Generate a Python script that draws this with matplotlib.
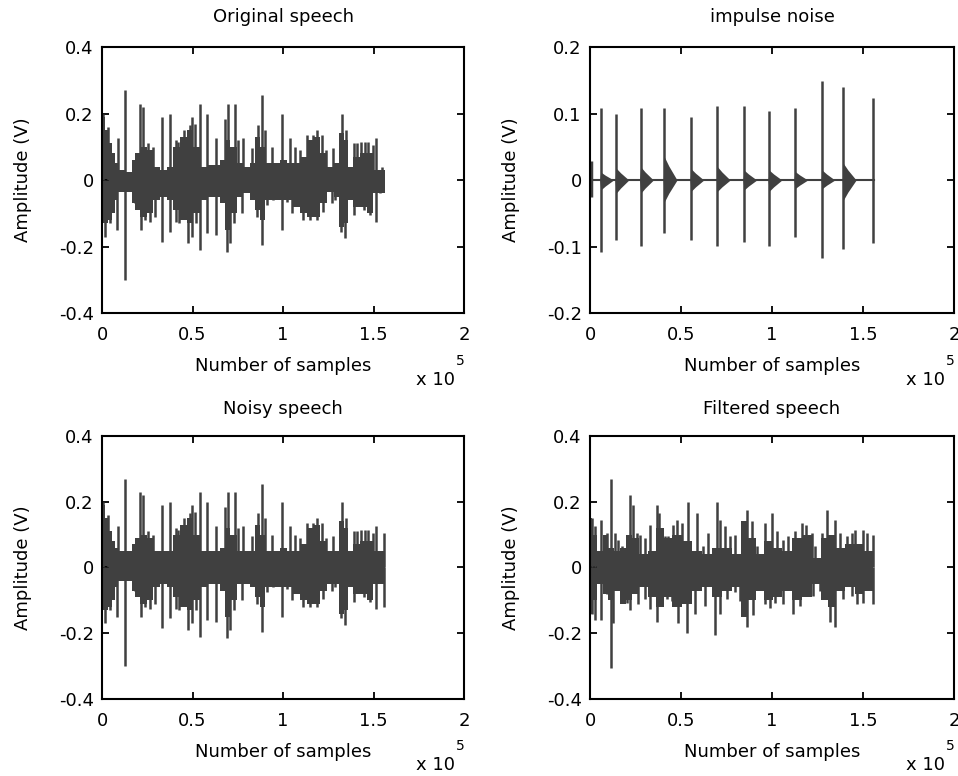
import numpy as np
import matplotlib.pyplot as plt
from matplotlib.ticker import FuncFormatter

plt.rcParams['font.family'] = ['DejaVu Sans']
plt.rcParams['axes.unicode_minus'] = False

# all x positions are in units of 1e5 samples
SCALE = 1e5
sig_color = '#404040'

# ---- original speech ----
orig_core_x = [0.004, 0.026, 0.044, 0.063, 0.081, 0.099, 0.155, 0.173, 0.192, 0.228, 0.265, 0.302,
               0.339, 0.376, 0.413, 0.449, 0.486, 0.523, 0.56, 0.597, 0.634, 0.67, 0.689, 0.726,
               0.762, 0.799, 0.836, 0.855, 0.891, 0.91, 0.965, 1.002, 1.039, 1.075, 1.112, 1.149,
               1.186, 1.223, 1.26, 1.297, 1.324, 1.352, 1.37, 1.407, 1.444, 1.481, 1.517, 1.564]
orig_core_up = [0.19, 0.15, 0.11, 0.08, 0.05, 0.03, 0.025, 0.06, 0.08, 0.1, 0.09, 0.04,
                0.03, 0.04, 0.1, 0.13, 0.15, 0.1, 0.04, 0.045, 0.045, 0.06, 0.12, 0.1,
                0.05, 0.04, 0.05, 0.13, 0.1, 0.05, 0.05, 0.06, 0.05, 0.05, 0.07, 0.12,
                0.13, 0.08, 0.04, 0.05, 0.14, 0.12, 0.04, 0.07, 0.08, 0.08, 0.03, 0.03]
orig_core_lo = [-0.13, -0.13, -0.12, -0.1, -0.06, -0.035, -0.035, -0.07, -0.09, -0.11, -0.1, -0.06,
                -0.05, -0.06, -0.09, -0.12, -0.13, -0.1, -0.06, -0.05, -0.05, -0.07, -0.15, -0.1,
                -0.05, -0.04, -0.06, -0.09, -0.12, -0.06, -0.06, -0.06, -0.06, -0.08, -0.1, -0.11,
                -0.11, -0.07, -0.035, -0.05, -0.14, -0.13, -0.06, -0.08, -0.08, -0.1, -0.04, -0.04]
orig_up_x = [0.004, 0.035, 0.09, 0.127, 0.21, 0.225, 0.256, 0.284, 0.33, 0.376, 0.409, 0.422,
             0.453, 0.486, 0.499, 0.514, 0.541, 0.582, 0.63, 0.68, 0.698, 0.735, 0.753, 0.781,
             0.827, 0.864, 0.882, 0.901, 0.937, 0.993, 1.039, 1.066, 1.094, 1.131, 1.164, 1.186,
             1.214, 1.238, 1.274, 1.324, 1.348, 1.389, 1.407, 1.429, 1.453, 1.471, 1.495, 1.514, 1.545]
orig_up_y = [0.2, 0.16, 0.125, 0.27, 0.23, 0.22, 0.11, 0.1, 0.19, 0.2, 0.12, 0.115,
             0.15, 0.165, 0.19, 0.17, 0.23, 0.2, 0.125, 0.185, 0.23, 0.23, 0.12, 0.125,
             0.095, 0.165, 0.255, 0.15, 0.1, 0.2, 0.125, 0.1, 0.09, 0.135, 0.135, 0.15,
             0.135, 0.09, 0.095, 0.2, 0.15, 0.11, 0.11, 0.115, 0.115, 0.115, 0.105, 0.125, 0.04]
orig_dn_x = [0.017, 0.044, 0.081, 0.127, 0.182, 0.214, 0.238, 0.265, 0.293, 0.33, 0.376, 0.409,
             0.427, 0.477, 0.495, 0.519, 0.541, 0.582, 0.63, 0.689, 0.707, 0.729, 0.772, 0.855,
             0.882, 0.91, 0.947, 0.993, 1.02, 1.048, 1.066, 1.112, 1.149, 1.186, 1.223, 1.269,
             1.287, 1.319, 1.343, 1.389, 1.416, 1.448, 1.481, 1.514, 1.536]
orig_dn_y = [-0.17, -0.13, -0.15, -0.3, -0.07, -0.15, -0.12, -0.125, -0.11, -0.185, -0.155, -0.125,
             -0.13, -0.19, -0.17, -0.13, -0.21, -0.16, -0.165, -0.215, -0.19, -0.13, -0.1, -0.11,
             -0.195, -0.075, -0.06, -0.15, -0.065, -0.1, -0.075, -0.12, -0.12, -0.12, -0.095, -0.07,
             -0.06, -0.155, -0.175, -0.105, -0.07, -0.09, -0.105, -0.125, -0.04]

# ---- impulse noise ----
imp_x = [0.059, 0.143, 0.278, 0.408, 0.555, 0.7, 0.846, 0.984, 1.126, 1.275, 1.392, 1.553]
imp_up = [0.108, 0.1, 0.108, 0.108, 0.095, 0.111, 0.111, 0.104, 0.108, 0.149, 0.14, 0.124]
imp_dn = [-0.108, -0.09, -0.099, -0.08, -0.09, -0.099, -0.093, -0.099, -0.085, -0.117, -0.104, -0.094]
tail_up = [0.012, 0.018, 0.02, 0.035, 0.017, 0.02, 0.015, 0.015, 0.013, 0.015, 0.025, 0.0]
tail_dn = [-0.015, -0.02, -0.02, -0.033, -0.017, -0.017, -0.015, -0.017, -0.013, -0.013, -0.03, 0.0]
imp_end = 1.56

# ---- noisy speech ----
noisy_core_up = [0.19, 0.15, 0.11, 0.08, 0.06, 0.05, 0.05, 0.07, 0.09, 0.1, 0.09, 0.05,
                 0.05, 0.05, 0.1, 0.13, 0.15, 0.1, 0.05, 0.05, 0.05, 0.06, 0.12, 0.1,
                 0.05, 0.05, 0.05, 0.13, 0.1, 0.05, 0.05, 0.06, 0.05, 0.05, 0.07, 0.12,
                 0.13, 0.08, 0.05, 0.05, 0.14, 0.12, 0.05, 0.07, 0.08, 0.08, 0.05, 0.05]
noisy_core_lo = [-0.13, -0.13, -0.12, -0.1, -0.06, -0.04, -0.04, -0.07, -0.09, -0.11, -0.1, -0.06,
                 -0.05, -0.06, -0.09, -0.12, -0.13, -0.1, -0.06, -0.05, -0.05, -0.07, -0.15, -0.1,
                 -0.05, -0.05, -0.06, -0.09, -0.12, -0.06, -0.06, -0.06, -0.06, -0.08, -0.1, -0.11,
                 -0.11, -0.07, -0.05, -0.05, -0.14, -0.13, -0.06, -0.08, -0.08, -0.1, -0.05, -0.05]
noisy_up_x = orig_up_x[:-1] + [1.558]
noisy_up_y = orig_up_y[:-1] + [0.105]
noisy_dn_x = orig_dn_x[:-1] + [1.558]
noisy_dn_y = orig_dn_y[:-1] + [-0.12]

# ---- filtered speech ----
filt_core_x = [0.0, 0.018, 0.055, 0.082, 0.119, 0.147, 0.183, 0.211, 0.247, 0.293, 0.339, 0.385,
               0.43, 0.476, 0.531, 0.586, 0.641, 0.696, 0.751, 0.806, 0.852, 0.888, 0.934, 0.98,
               1.026, 1.081, 1.136, 1.19, 1.245, 1.291, 1.328, 1.374, 1.429, 1.484, 1.529, 1.557]
filt_core_up = [0.15, 0.1, 0.05, 0.1, 0.06, 0.05, 0.06, 0.1, 0.09, 0.04, 0.05, 0.12,
                0.09, 0.1, 0.08, 0.05, 0.04, 0.06, 0.06, 0.04, 0.14, 0.09, 0.04, 0.08,
                0.06, 0.05, 0.09, 0.1, 0.03, 0.09, 0.1, 0.06, 0.07, 0.07, 0.05, 0.05]
filt_core_lo = [-0.14, -0.1, -0.05, -0.08, -0.1, -0.07, -0.11, -0.1, -0.08, -0.06, -0.09, -0.12,
                -0.09, -0.12, -0.11, -0.07, -0.06, -0.09, -0.07, -0.06, -0.15, -0.1, -0.07, -0.1,
                -0.09, -0.07, -0.1, -0.09, -0.05, -0.1, -0.12, -0.07, -0.06, -0.08, -0.07, -0.07]
filt_up_x = [0.009, 0.027, 0.059, 0.092, 0.115, 0.137, 0.156, 0.174, 0.22, 0.234, 0.256, 0.275,
             0.302, 0.33, 0.366, 0.381, 0.412, 0.43, 0.458, 0.48, 0.504, 0.54, 0.586, 0.623,
             0.65, 0.696, 0.714, 0.742, 0.769, 0.797, 0.833, 0.861, 0.888, 0.916, 0.962, 0.998,
             1.026, 1.062, 1.09, 1.126, 1.163, 1.187, 1.218, 1.236, 1.273, 1.304, 1.346, 1.374,
             1.41, 1.438, 1.456, 1.502, 1.52, 1.557]
filt_up_y = [0.15, 0.125, 0.145, 0.105, 0.27, 0.105, 0.085, 0.065, 0.22, 0.19, 0.105, 0.1,
             0.09, 0.13, 0.19, 0.165, 0.095, 0.095, 0.13, 0.145, 0.135, 0.2, 0.165, 0.065,
             0.105, 0.2, 0.145, 0.125, 0.095, 0.1, 0.125, 0.175, 0.14, 0.065, 0.135, 0.165,
             0.11, 0.085, 0.095, 0.11, 0.135, 0.13, 0.105, 0.065, 0.105, 0.175, 0.145, 0.105,
             0.095, 0.105, 0.115, 0.115, 0.105, 0.1]
filt_dn_x = [0.009, 0.027, 0.059, 0.092, 0.115, 0.128, 0.201, 0.22, 0.266, 0.302, 0.33, 0.366,
             0.421, 0.449, 0.485, 0.531, 0.577, 0.632, 0.687, 0.714, 0.751, 0.797, 0.824, 0.861,
             0.897, 0.962, 0.989, 1.016, 1.062, 1.117, 1.154, 1.227, 1.264, 1.291, 1.319, 1.346,
             1.392, 1.438, 1.465, 1.502, 1.557]
filt_dn_y = [-0.14, -0.16, -0.16, -0.08, -0.305, -0.17, -0.107, -0.13, -0.112, -0.096, -0.127, -0.165,
             -0.096, -0.101, -0.17, -0.2, -0.14, -0.116, -0.205, -0.142, -0.096, -0.076, -0.101, -0.18,
             -0.146, -0.112, -0.122, -0.107, -0.112, -0.142, -0.117, -0.086, -0.071, -0.096, -0.165, -0.18,
             -0.096, -0.086, -0.112, -0.107, -0.112]


def sci(v, pos):
    return '%g' % (v / SCALE)


def style_axes(ax, ylim, yticks, title, title_pad):
    ax.set_xlim(0, 2 * SCALE)
    ax.set_ylim(*ylim)
    ax.set_xticks(np.arange(0, 2.01, 0.5) * SCALE)
    ax.set_yticks(yticks)
    ax.xaxis.set_major_formatter(FuncFormatter(sci))
    ax.yaxis.set_major_formatter(FuncFormatter(lambda v, p: '%g' % round(v, 3)))
    ax.tick_params(direction='in', top=True, right=True, length=5, width=1.3, labelsize=13)
    ax.tick_params(axis='x', pad=9)
    ax.tick_params(axis='y', pad=6)
    for s in ax.spines.values():
        s.set_linewidth(1.5)
    ax.set_title(title, fontsize=13, pad=title_pad)
    ax.set_xlabel('Number of samples', fontsize=13, labelpad=10)
    ax.set_ylabel('Amplitude (V)', fontsize=13, labelpad=19)
    ax.text(0.975, -0.25, 'x 10', transform=ax.transAxes, ha='right', va='center', fontsize=13)
    ax.text(0.99, -0.18, '5', transform=ax.transAxes, ha='center', va='center', fontsize=10)


def draw_speech(ax, cx, cu, cl, ux, uy, dx, dy):
    cx = np.array(cx) * SCALE
    ax.fill_between(cx, cl, cu, step='mid', color=sig_color, lw=0)
    ax.vlines(np.array(ux) * SCALE, 0, uy, colors=sig_color, lw=1.8)
    ax.vlines(np.array(dx) * SCALE, dy, 0, colors=sig_color, lw=1.8)


fig = plt.figure(figsize=(9.58, 7.76), dpi=100)
ax1 = fig.add_axes([0.1065, 0.5966, 0.378, 0.3428])
ax2 = fig.add_axes([0.6159, 0.5966, 0.380, 0.3428])
ax3 = fig.add_axes([0.1065, 0.0992, 0.378, 0.339])
ax4 = fig.add_axes([0.6159, 0.0992, 0.380, 0.339])

draw_speech(ax1, orig_core_x, orig_core_up, orig_core_lo, orig_up_x, orig_up_y, orig_dn_x, orig_dn_y)
style_axes(ax1, (-0.4, 0.4), [-0.4, -0.2, 0, 0.2, 0.4], 'Original speech', 18)

# impulse noise: baseline, spikes and short decaying ringing after each impulse
ax2.plot([0, imp_end * SCALE], [0, 0], color=sig_color, lw=1.5)
for x, a, b in zip(imp_x, tail_up, tail_dn):
    xs = np.array([x - 0.006, x, x + 0.025, x + 0.07]) * SCALE
    ax2.fill_between(xs, [0, b, 0.6 * b, 0], [0, a, 0.6 * a, 0], color=sig_color, lw=0)
ax2.vlines(np.array(imp_x) * SCALE, imp_dn, imp_up, colors=sig_color, lw=1.8)
ax2.vlines([0.004 * SCALE], -0.025, 0.028, colors=sig_color, lw=2.5)
style_axes(ax2, (-0.2, 0.2), [-0.2, -0.1, 0, 0.1, 0.2], 'impulse noise', 18)

draw_speech(ax3, orig_core_x, noisy_core_up, noisy_core_lo, noisy_up_x, noisy_up_y, noisy_dn_x, noisy_dn_y)
style_axes(ax3, (-0.4, 0.4), [-0.4, -0.2, 0, 0.2, 0.4], 'Noisy speech', 16)

draw_speech(ax4, filt_core_x, filt_core_up, filt_core_lo, filt_up_x, filt_up_y, filt_dn_x, filt_dn_y)
style_axes(ax4, (-0.4, 0.4), [-0.4, -0.2, 0, 0.2, 0.4], 'Filtered speech', 16)

fig.savefig('out.png', dpi=100)
